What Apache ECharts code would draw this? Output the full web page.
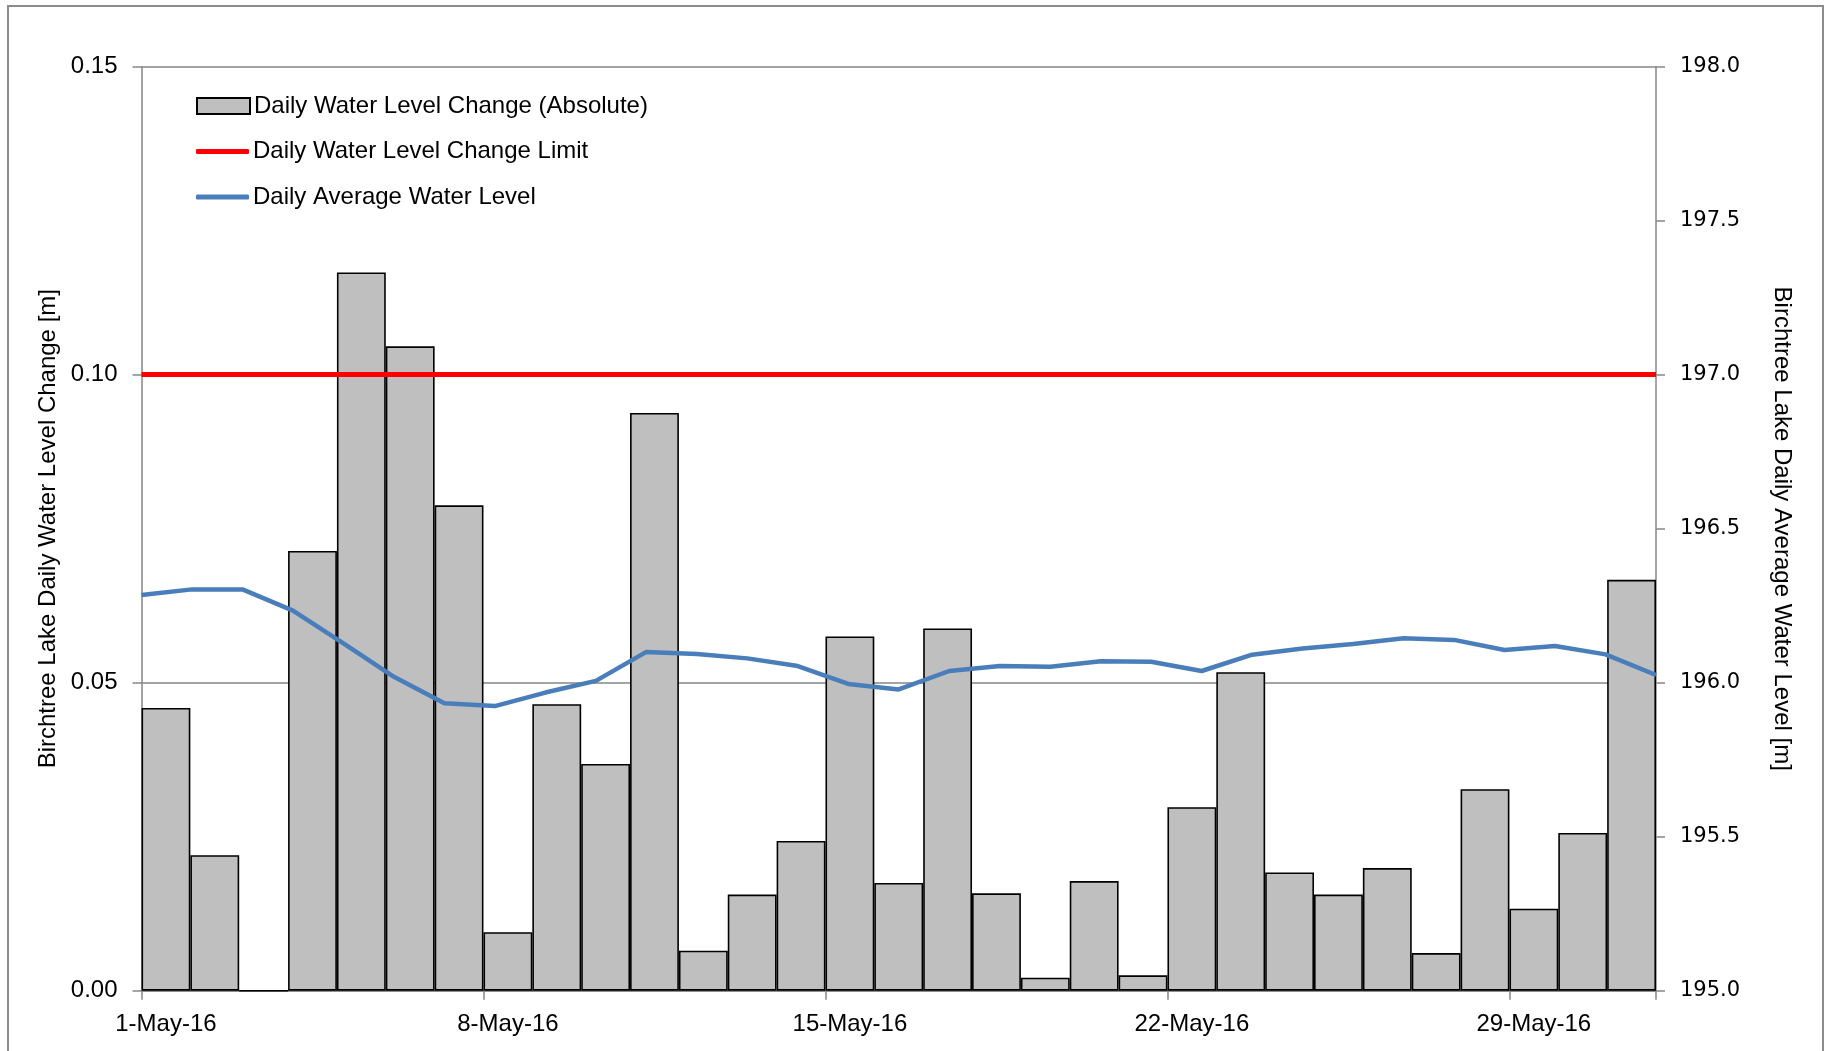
<!DOCTYPE html>
<html>
<head>
<meta charset="utf-8">
<script src="https://cdn.jsdelivr.net/npm/echarts@6.0.0/dist/echarts.min.js"></script>
<style>
html,body{margin:0;padding:0;background:#fff;overflow:hidden;}
#chart{width:1834px;height:1051px;}
</style>
</head>
<body>
<div id="chart"></div>
<script>
// ---- data ----
const days = ['1-May-16','2-May-16','3-May-16','4-May-16','5-May-16','6-May-16','7-May-16','8-May-16','9-May-16','10-May-16',
  '11-May-16','12-May-16','13-May-16','14-May-16','15-May-16','16-May-16','17-May-16','18-May-16','19-May-16','20-May-16',
  '21-May-16','22-May-16','23-May-16','24-May-16','25-May-16','26-May-16','27-May-16','28-May-16','29-May-16','30-May-16','31-May-16'];
const dailyChange = [0.0459,0.0220,0.0000,0.0714,0.1166,0.1046,0.0788,0.0095,0.0465,0.0368,
  0.0938,0.0065,0.0156,0.0243,0.0575,0.0175,0.0588,0.0158,0.0021,0.0178,
  0.0025,0.0298,0.0517,0.0192,0.0156,0.0199,0.0061,0.0327,0.0133,0.0256,0.0667];
const avgLevel = [196.285,196.303,196.303,196.234,196.128,196.019,195.933,195.924,195.968,196.006,
  196.100,196.093,196.079,196.054,195.996,195.978,196.038,196.054,196.052,196.070,
  196.068,196.038,196.091,196.111,196.126,196.144,196.139,196.106,196.119,196.092,196.025];
const changeLimit = 0.10;
const leftTicks = {min:0, max:0.15, interval:0.05};
const rightTicks = {min:195, max:198, interval:0.5};
const names = {
  bar:'Daily Water Level Change (Absolute)',
  limit:'Daily Water Level Change Limit',
  level:'Daily Average Water Level',
  leftAxis:'Birchtree Lake Daily Water Level Change [m]',
  rightAxis:'Birchtree Lake Daily Average Water Level [m]'
};

const FONT = 'Liberation Sans';
const GRAY = '#868686';
const chart = echarts.init(document.getElementById('chart'), null, {renderer:'canvas'});

const legendBase = {
  orient:'vertical', left:196, itemGap:0, padding:0,
  textStyle:{fontFamily:FONT, fontSize:24, color:'#000', padding:[0,0,0,-1]},
  selectedMode:false
};

chart.setOption({
  animation:false,
  backgroundColor:'#fff',
  textStyle:{fontFamily:FONT},
  graphic:[{type:'rect', silent:true, z:-10,
    shape:{x:8, y:6, width:1815, height:1100},
    style:{fill:'none', stroke:'#8c8c8c', lineWidth:2}}],
  grid:{left:141.5, right:178, top:66.7, bottom:60.3, containLabel:false, outerBoundsMode:'none'},
  legend:[
    Object.assign({}, legendBase, {top:94, itemWidth:53, itemHeight:16,
      data:[{name:names.bar, icon:'rect', itemStyle:{color:'#BFBFBF', borderColor:'#000', borderWidth:2}}]}),
    Object.assign({}, legendBase, {top:139.5, itemWidth:53, itemHeight:5,
      data:[{name:names.limit, icon:'roundRect', itemStyle:{color:'#FF0000'}}]}),
    Object.assign({}, legendBase, {top:185, itemWidth:53, itemHeight:5,
      data:[{name:names.level, icon:'roundRect', itemStyle:{color:'#4A7EBB'}}]})
  ],
  xAxis:[
    {type:'category', data:days, boundaryGap:true, position:'bottom',
      axisLine:{lineStyle:{color:GRAY, width:1.5}},
      axisTick:{show:true, interval:6, length:9, lineStyle:{color:GRAY, width:1.5}},
      axisLabel:{interval:6, margin:22, fontSize:24, color:'#000', fontFamily:FONT},
      splitLine:{show:false}},
    {type:'category', data:days, boundaryGap:false, show:false}
  ],
  yAxis:[
    {type:'value', min:leftTicks.min, max:leftTicks.max, interval:leftTicks.interval, position:'left',
      name:names.leftAxis, nameLocation:'middle', nameGap:81, nameRotate:90,
      nameTextStyle:{fontSize:24, color:'#000', fontFamily:FONT},
      axisLine:{show:true, lineStyle:{color:GRAY, width:1.5}},
      axisTick:{show:true, length:9, lineStyle:{color:GRAY, width:1.5}},
      axisLabel:{margin:24, fontSize:24, color:'#000', fontFamily:FONT, formatter:v=>v.toFixed(2)},
      splitLine:{show:true, lineStyle:{color:GRAY, width:1.5}}},
    {type:'value', min:rightTicks.min, max:rightTicks.max, interval:rightTicks.interval, position:'right',
      name:names.rightAxis, nameLocation:'middle', nameGap:114, nameRotate:-90,
      nameTextStyle:{fontSize:24, color:'#000', fontFamily:FONT},
      axisLine:{show:true, lineStyle:{color:GRAY, width:1.5}},
      axisTick:{show:true, length:9, lineStyle:{color:GRAY, width:1.5}},
      axisLabel:{margin:24, fontSize:21, color:'#000', fontFamily:'"DejaVu Sans", Verdana, sans-serif', formatter:v=>v.toFixed(1)},
      splitLine:{show:false}}
  ],
  series:[
    {name:names.bar, type:'bar', xAxisIndex:0, yAxisIndex:0, data:dailyChange,
      barCategoryGap:'0%', barGap:'0%',
      itemStyle:{color:'#BFBFBF', borderColor:'#000', borderWidth:1.6}, z:2},
    {name:names.limit, type:'line', xAxisIndex:1, yAxisIndex:0, data:[], symbol:'none',
      itemStyle:{color:'#FF0000'}, lineStyle:{color:'#FF0000', width:5}, z:4,
      markLine:{silent:true, symbol:'none', label:{show:false},
        lineStyle:{color:'#FF0000', width:5, type:'solid'},
        data:[{yAxis:changeLimit}]}},
    {name:names.level, type:'line', xAxisIndex:1, yAxisIndex:1, data:avgLevel, symbol:'none',
      itemStyle:{color:'#4A7EBB'}, lineStyle:{color:'#4A7EBB', width:4.5}, z:5}
  ]
});
</script>
</body>
</html>
